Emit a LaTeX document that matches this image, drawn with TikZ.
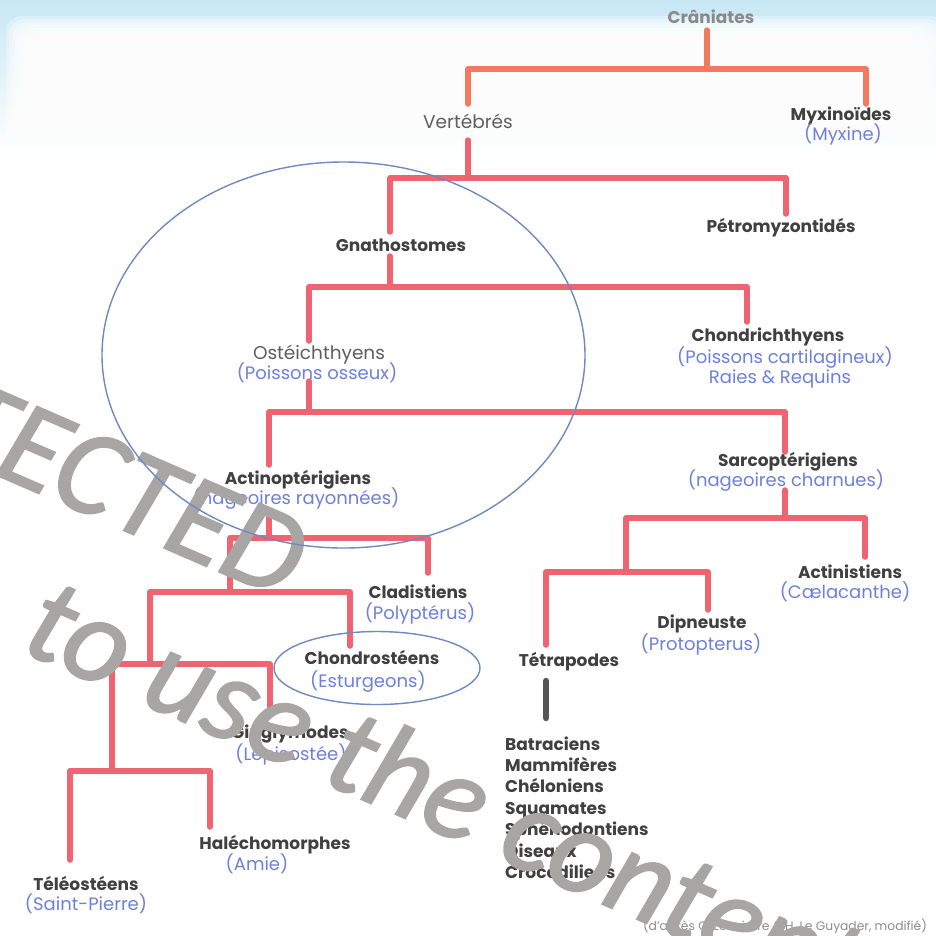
\documentclass[tikz,border=0pt]{standalone}
\usepackage{fontspec}
\setmainfont{Poppins}
\newfontfamily\wmfont[FakeBold=1.5, ItalicFeatures={FakeBold=1.5}]{Carlito}
\usetikzlibrary{fadings}

\definecolor{haze}{HTML}{C9E7F5}
\definecolor{linkred}{HTML}{EE6470}
\definecolor{linkorange}{HTML}{F27A5E}
\definecolor{namecol}{HTML}{404040}
\definecolor{plaincol}{HTML}{5E5E5E}
\definecolor{topcol}{HTML}{8A8A8A}
\definecolor{subcol}{HTML}{6E7FDC}
\definecolor{ringcol}{HTML}{6F8AC0}
\definecolor{wmcol}{HTML}{A8A5A5}
\definecolor{creditcol}{HTML}{8C8C8C}
\definecolor{stemcol}{HTML}{555555}

\begin{document}
\begin{tikzpicture}[x=1pt,y=-1pt,
  link/.style={line width=5.5pt, draw=linkred, line cap=round, line join=round},
  toplink/.style={link, draw=linkorange},
  taxon/.style={font=\fontsize{17}{19}\selectfont\bfseries, text=namecol, inner sep=0pt},
  plainlbl/.style={font=\fontsize{18.5}{20}\selectfont, text=plaincol, inner sep=0pt},
  gloss/.style={font=\fontsize{18}{20}\selectfont, text=subcol, inner sep=0pt},
  ring/.style={draw=ringcol, line width=1.4pt},
  wmark/.style={font=\wmfont\fontsize{123}{135}\selectfont\itshape, text=wmcol, rotate=-23.5, inner sep=0pt}
]
\useasboundingbox (0,0) rectangle (936,935);

% background: pale blue haze along the top, white card with a soft edge
\fill[white] (0,0) rectangle (936,935);
\fill[haze, path fading=south] (0,0) rectangle (936,150);
\foreach \i in {0,...,9}
  \fill[white, opacity=0.3, rounded corners=16pt] (6+3*\i,16+3*\i) rectangle (946-3*\i,990);

% ---- labels ----
\node[taxon, text=topcol] (cran) at (711,17) {Crâniates};
\node[plainlbl] (vert) at (468,121) {Vertébrés};
\node[taxon] (myx) at (841,116) {Myxinoïdes};
\node[gloss] (myx-s) at (843,134) {(Myxine)};
\node[taxon] (petro) at (781,228) {Pétromyzontidés};
\node[taxon] (gnath) at (401,245) {Gnathostomes};
\node[taxon] (chondri) at (768,337) {Chondrichthyens};
\node[gloss] (chondri-s) at (785,358) {(Poissons cartilagineux)};
\node[gloss] (chondri-r) at (780,379) {Raies \& Requins};
\node[plainlbl] (oste) at (319,355) {Ostéichthyens};
\node[gloss] (oste-s) at (317,373) {(Poissons osseux)};
\node[taxon] (actino) at (298,480) {Actinoptérigiens};
\node[gloss] (actino-s) at (296,499) {(nageoires rayonnées)};
\node[taxon] (sarco) at (788,462) {Sarcoptérigiens};
\node[gloss] (sarco-s) at (786,481) {(nageoires charnues)};
\node[taxon] (clad) at (418,592) {Cladistiens};
\node[gloss] (clad-s) at (420,613) {(Polyptérus)};
\node[taxon] (chondro) at (372,657) {Chondrostéens};
\node[gloss] (chondro-s) at (368,682) {(Esturgeons)};
\node[taxon] (ging) at (290,734) {Ginglymodes};
\node[gloss] (ging-s) at (291,754) {(Lépisostée)};
\node[taxon] (hale) at (275,845) {Haléchomorphes};
\node[gloss] (hale-s) at (257,864) {(Amie)};
\node[taxon] (tele) at (86,883) {Téléostéens};
\node[gloss] (tele-s) at (86,904) {(Saint-Pierre)};
\node[taxon] (actini) at (850,572) {Actinistiens};
\node[gloss] (actini-s) at (845,592) {(Cælacanthe)};
\node[taxon] (dipn) at (702,624) {Dipneuste};
\node[gloss] (dipn-s) at (701,644) {(Protopterus)};
\node[taxon] (tetra) at (569,662) {Tétrapodes};
\node[taxon, anchor=west, align=left, font=\fontsize{17}{21.4}\selectfont\bfseries] (groups) at (505,807.5)
  {Batraciens\\Mammifères\\Chéloniens\\Squamates\\Sphénodontiens\\Oiseaux\\Crocodiliens};
\node[font=\fontsize{12.3}{14}\selectfont, text=creditcol, inner sep=0pt] (credit) at (785,926)
  {(d'après G. Lecointre \& H. Le Guyader, modifié)};

% ---- line ends and junctions ----
\coordinate (cran-b) at (707,30);   \coordinate (j1) at (707,69);
\coordinate (vert-t) at (468,104);  \coordinate (myx-t) at (866,104);
\coordinate (vert-b) at (468,140);  \coordinate (j2) at (468,178);
\coordinate (gnath-t) at (390,232); \coordinate (petro-t) at (786,214);
\coordinate (gnath-b) at (390,256); \coordinate (j3) at (390,287);
\coordinate (oste-t) at (309,341);  \coordinate (chondri-t) at (747,322);
\coordinate (oste-b) at (309,381);  \coordinate (j4) at (309,412);
\coordinate (actino-t) at (269,465);\coordinate (sarco-t) at (785,452);
\coordinate (actino-b) at (269,510);\coordinate (j5) at (269,538);
\coordinate (clad-t) at (428,573);
\coordinate (j6) at (230,592);      \coordinate (chondro-t) at (350,646);
\coordinate (j7) at (150,664);      \coordinate (ging-t) at (270,712);
\coordinate (j8) at (112,771);      \coordinate (tele-t) at (70,860);
\coordinate (hale-t) at (210,827);
\coordinate (sarco-b) at (785,490); \coordinate (j9) at (785,518);
\coordinate (actini-t) at (865,557);
\coordinate (j10) at (626,572);     \coordinate (dipn-t) at (708,610);
\coordinate (tetra-t) at (546,645);
\coordinate (tetra-b) at (546,681); \coordinate (groups-t) at (546,718);

% ---- branches ----
\draw[toplink] (cran-b) -- (j1);
\draw[toplink] (vert-t) |- (myx-t |- j1) -- (myx-t);
\draw[link] (vert-b) -- (j2);
\draw[link] (gnath-t) |- (petro-t |- j2) -- (petro-t);
\draw[link] (gnath-b) -- (j3);
\draw[link] (oste-t) |- (chondri-t |- j3) -- (chondri-t);
\draw[link] (oste-b) -- (j4);
\draw[link] (actino-t) |- (sarco-t |- j4) -- (sarco-t);
\draw[link] (actino-b) -- (j5);
\draw[link] (j6) |- (clad-t |- j5) -- (clad-t);
\draw[link] (j7) |- (chondro-t |- j6) -- (chondro-t);
\draw[link] (j8) |- (ging-t |- j7) -- (ging-t);
\draw[link] (tele-t) |- (hale-t |- j8) -- (hale-t);
\draw[link] (sarco-b) -- (j9);
\draw[link] (j10) |- (actini-t |- j9) -- (actini-t);
\draw[link] (tetra-t) |- (dipn-t |- j10) -- (dipn-t);
\draw[line width=6.5pt, draw=stemcol, line cap=round] (tetra-b) -- (groups-t);

% ---- watermark ----
\begin{scope}
  \clip (0,0) rectangle (936,935);
  \node[wmark, anchor=base east] (wm1) at (284,600) {PROTECTED};
  \node[wmark, anchor=base west] (wm2) at (18,650) {to use the content};
\end{scope}

% ---- highlighted groups ----
\draw[ring] (343.5,355) ellipse [x radius=241.5pt, y radius=193pt];
\draw[ring] (377,668) ellipse [x radius=103pt, y radius=36.5pt];
\end{tikzpicture}
\end{document}
